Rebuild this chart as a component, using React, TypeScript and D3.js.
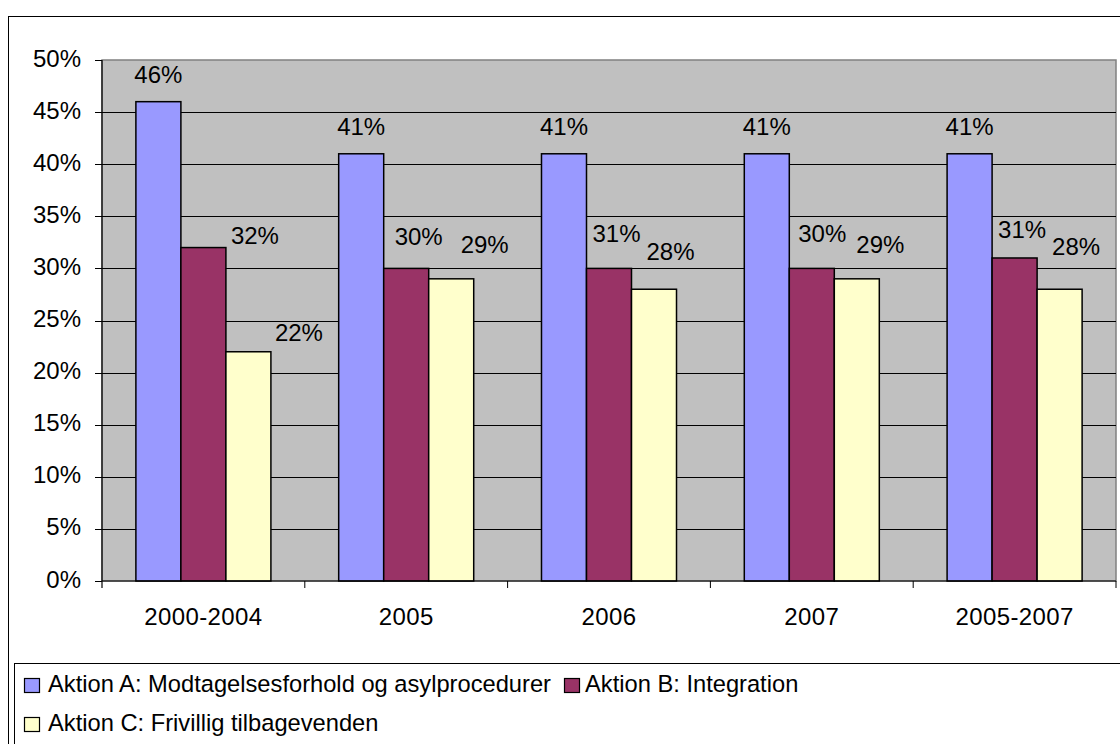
import React from 'react';
import * as d3 from 'd3';

const categories = ['2000-2004', '2005', '2006', '2007', '2005-2007'];
const seriesNames = [
  'Aktion A: Modtagelsesforhold og asylprocedurer',
  'Aktion B: Integration',
  'Aktion C: Frivillig tilbagevenden',
];
const aktionA = [46, 41, 41, 41, 41];
const aktionB = [32, 30, 30, 30, 31];
const aktionC = [22, 29, 28, 29, 28];
const labelsA = ['46%', '41%', '41%', '41%', '41%'];
const labelsB = ['32%', '30%', '31%', '30%', '31%'];
const labelsC = ['22%', '29%', '28%', '29%', '28%'];
const yTicks = [0, 5, 10, 15, 20, 25, 30, 35, 40, 45, 50];

// hand placed data labels (dx from bar centre, dy of baseline from bar top)
const labelShift = [
  [[0, -18.5], [0, -19], [0, -19], [0, -19], [0, -19]],
  [[51.5, -4], [12.5, -23.5], [7.5, -26.5], [10.5, -26], [7.5, -20]],
  [[50.5, -11], [33.5, -25.7], [16.5, -29.7], [23.5, -26], [16.5, -34.7]],
];

const colors = ['#9999FF', '#993366', '#FFFFCC'];
const font = '"Liberation Sans", Arial, sans-serif';

const App = () => {
  const left = 102;
  const right = 1116;
  const top = 60;
  const bottom = 581;

  const values = [aktionA, aktionB, aktionC];
  const labels = [labelsA, labelsB, labelsC];

  const x = d3.scaleBand<string>().domain(categories).range([left, right]).padding(0);
  const x1 = d3.scaleBand<number>().domain([0, 1, 2]).range([0, x.bandwidth()]).paddingInner(0).paddingOuter(0.753);
  const y = d3.scaleLinear().domain([0, 50]).range([bottom, top]);

  return (
    <svg width={1120} height={744} style={{ position: 'absolute', left: 0, top: 0 }} fontFamily={font}>
      <rect x={0} y={0} width={1120} height={744} fill="#fff" />
      {/* outer chart frame */}
      <rect x={8.5} y={16.5} width={1130} height={760} fill="none" stroke="#000" strokeWidth={1} />

      {/* plot area */}
      <rect x={left} y={top} width={right - left} height={bottom - top} fill="#C0C0C0" stroke="#808080" strokeWidth={1.5} />
      {yTicks.filter(t => t > 0 && t < 50).map(t => (
        <line key={t} x1={left} x2={right} y1={Math.round(y(t)) + 0.5} y2={Math.round(y(t)) + 0.5} stroke="#000" strokeWidth={1} />
      ))}

      {/* bars */}
      {values.map((vals, si) =>
        vals.map((v, ci) => (
          <rect
            key={`${si}-${ci}`}
            x={(x(categories[ci]) as number) + (x1(si) as number)}
            y={y(v)}
            width={x1.bandwidth()}
            height={y(0) - y(v)}
            fill={colors[si]}
            stroke="#000"
            strokeWidth={1.5}
          />
        ))
      )}

      {/* axes */}
      <line x1={left} x2={left} y1={top} y2={bottom + 7} stroke="#000" strokeWidth={1.2} />
      <line x1={left} x2={right} y1={bottom} y2={bottom} stroke="#000" strokeWidth={1.2} />
      {yTicks.map(t => (
        <g key={t}>
          <line x1={left - 7} x2={left} y1={Math.round(y(t)) + 0.5} y2={Math.round(y(t)) + 0.5} stroke="#000" strokeWidth={1} />
          <text x={81} y={y(t) + 6.5} textAnchor="end" fontSize={24} fill="#000">{t}%</text>
        </g>
      ))}
      {categories.map((c, i) => (
        <g key={c}>
          <line x1={(x(c) as number) + x.bandwidth()} x2={(x(c) as number) + x.bandwidth()} y1={bottom} y2={bottom + 7} stroke="#000" strokeWidth={1} />
          <text x={(x(c) as number) + x.bandwidth() / 2} y={624.5} textAnchor="middle" fontSize={24} letterSpacing={0.4} fill="#000">{c}</text>
        </g>
      ))}

      {/* data labels */}
      {values.map((vals, si) =>
        vals.map((v, ci) => (
          <text
            key={`l${si}-${ci}`}
            x={(x(categories[ci]) as number) + (x1(si) as number) + x1.bandwidth() / 2 + labelShift[si][ci][0]}
            y={y(v) + labelShift[si][ci][1]}
            textAnchor="middle"
            fontSize={24}
            fill="#000"
          >
            {labels[si][ci]}
          </text>
        ))
      )}

      {/* legend */}
      <rect x={14.5} y={663.5} width={1130} height={120} fill="#fff" stroke="#000" strokeWidth={1} />
      <rect x={24.5} y={678.5} width={15} height={14} fill={colors[0]} stroke="#000" strokeWidth={1.2} />
      <text x={48} y={692} fontSize={23.7} fill="#000">{seriesNames[0]}</text>
      <rect x={564.5} y={678.5} width={15} height={14} fill={colors[1]} stroke="#000" strokeWidth={1.2} />
      <text x={585} y={692} fontSize={23.7} fill="#000">{seriesNames[1]}</text>
      <rect x={24.5} y={717.5} width={15} height={14} fill={colors[2]} stroke="#000" strokeWidth={1.2} />
      <text x={48} y={731} fontSize={23.7} fill="#000">{seriesNames[2]}</text>
    </svg>
  );
};

export default App;
